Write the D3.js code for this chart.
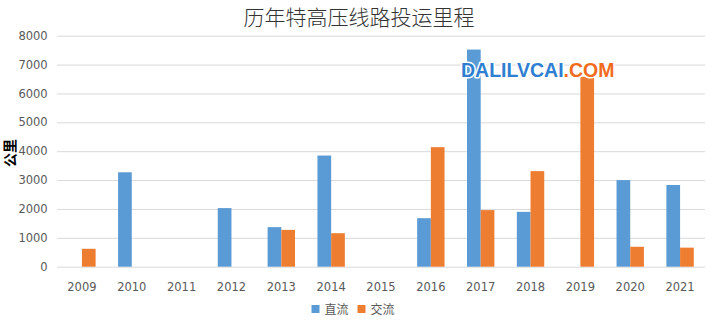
<!DOCTYPE html>
<html><head><meta charset="utf-8">
<script src="https://cdn.jsdelivr.net/npm/d3@7/dist/d3.min.js"></script>
<style>body{margin:0;background:#fff}svg{display:block}</style>
</head><body>
<script>
const years = ["2009","2010","2011","2012","2013","2014","2015","2016","2017","2018","2019","2020","2021"];
const seriesNames = ["直流","交流"];
const dcValues = [0,3270,0,2030,1370,3850,0,1680,7520,1900,0,3000,2830];
const acValues = [620,0,0,0,1275,1160,0,4140,1960,3310,6580,690,660];
const yTicks = [0,1000,2000,3000,4000,5000,6000,7000,8000];
const colors = ["#5b9bd5","#ed7d31"];
const title = "历年特高压线路投运里程";
const yLabel = "公里";
const watermark = ["DALILVCAI", ".COM"];

const W = 713, H = 322;
const svg = d3.select("body").append("svg").attr("width", W).attr("height", H);
const m = {left:57, right:8, top:35.7, bottom:55.3};
const x = d3.scaleBand().domain(years).range([m.left, W - m.right]);
const x1 = d3.scaleBand().domain(seriesNames).range([0, x.bandwidth()]).paddingOuter(0.82).paddingInner(0);
const y = d3.scaleLinear().domain([0, 8000]).range([H - m.bottom, m.top]);
const tickFont = "DejaVu Sans, Verdana, sans-serif";

// gridlines
svg.append("g").selectAll("line").data(yTicks).join("line")
  .attr("x1", m.left).attr("x2", W - m.right)
  .attr("y1", d => y(d) + 0.5).attr("y2", d => y(d) + 0.5)
  .attr("stroke", "#d9d9d9").attr("stroke-width", 1);

// y tick labels
svg.append("g").selectAll("text").data(yTicks).join("text")
  .attr("x", 47.7).attr("y", d => y(d)).attr("dy", "0.36em")
  .attr("text-anchor", "end").attr("font-family", tickFont)
  .attr("font-size", 11.5).attr("fill", "#595959").text(d => d);

// x tick labels
svg.append("g").selectAll("text").data(years).join("text")
  .attr("x", d => x(d) + x.bandwidth() / 2).attr("y", 291)
  .attr("text-anchor", "middle").attr("font-family", tickFont)
  .attr("font-size", 11.5).attr("fill", "#595959").text(d => d);

// bars
const data = years.map((yr, i) => ({yr, vals: [dcValues[i], acValues[i]]}));
const groups = svg.append("g").selectAll("g").data(data).join("g")
  .attr("transform", d => `translate(${x(d.yr)},0)`);
groups.selectAll("rect").data(d => d.vals.map((v, k) => ({v, k})).filter(e => e.v > 0)).join("rect")
  .attr("x", d => x1(seriesNames[d.k])).attr("width", x1.bandwidth())
  .attr("y", d => y(d.v)).attr("height", d => y(0) - y(d.v))
  .attr("fill", d => colors[d.k]);

// title
svg.append("text").attr("x", 359).attr("y", 25).attr("text-anchor", "middle")
  .attr("font-family", "Noto Sans CJK SC, sans-serif").attr("font-weight", 300)
  .attr("font-size", 21).attr("fill", "#333").text(title);

// y label
svg.append("text").attr("transform", "translate(15,153) rotate(-90)")
  .attr("text-anchor", "middle").attr("font-family", "Noto Sans CJK SC, sans-serif")
  .attr("font-weight", 700).attr("font-size", 14).attr("fill", "#000").text(yLabel);

// legend
const legX = [311.5, 357.5];
const leg = svg.append("g").selectAll("g").data(seriesNames).join("g")
  .attr("transform", (d, i) => `translate(${legX[i]},305)`);
leg.append("rect").attr("width", 8).attr("height", 8).attr("fill", (d, i) => colors[i]);
leg.append("text").attr("x", 13).attr("y", 8.5)
  .attr("font-family", "Noto Sans CJK SC, sans-serif").attr("font-size", 12)
  .attr("fill", "#595959").text(d => d);

// watermark
const wm = svg.append("text").attr("x", 461).attr("y", 77)
  .attr("font-family", "Liberation Sans, Arial, sans-serif").attr("font-weight", 700)
  .attr("font-size", 19.5).attr("stroke", "#fff").attr("stroke-width", 3)
  .attr("paint-order", "stroke").attr("stroke-linejoin", "round");
wm.append("tspan").attr("fill", "#2e7fd2").text(watermark[0]);
wm.append("tspan").attr("fill", "#f26b1d").text(watermark[1]);
</script>
</body></html>
